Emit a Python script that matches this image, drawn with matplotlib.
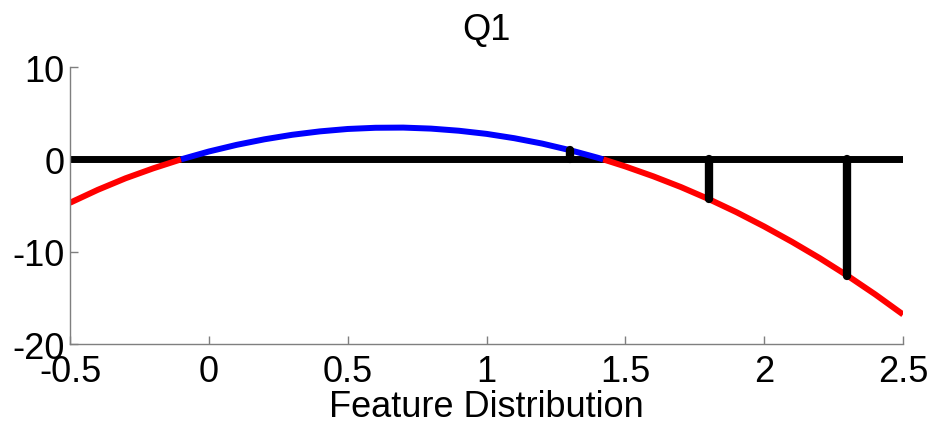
import numpy as np
import matplotlib
matplotlib.use("Agg")
import matplotlib.pyplot as plt

plt.rcParams['font.family'] = ['Liberation Sans', 'DejaVu Sans']
plt.rcParams['axes.unicode_minus'] = False

# curve values
x_vals = [-0.5, -0.4, -0.3, -0.2, -0.1, 0.0, 0.1, 0.2, 0.3, 0.4, 0.5, 0.6, 0.7,
          0.8, 0.9, 1.0, 1.1, 1.2, 1.3, 1.4, 1.42, 1.5, 1.6, 1.7, 1.8, 1.9, 2.0,
          2.1, 2.2, 2.3, 2.4, 2.5]
y_vals = [-4.7, -3.3, -2.05, -0.97, 0.0, 0.85, 1.57, 2.17, 2.66, 3.03, 3.29, 3.42, 3.44,
          3.33, 3.1, 2.76, 2.29, 1.71, 1.0, 0.18, 0.0, -0.77, -1.83, -3.0, -4.3, -5.72, -7.27,
          -8.93, -10.7, -12.6, -14.63, -16.8]

baseline_x = [-0.5, 2.5]
bar_x = [1.3, 1.8, 2.3]
bar_y = [1.05, -4.3, -12.6]

x = np.array(x_vals)
y = np.array(y_vals)
blue = np.where(y >= 0, y, np.nan)
red = np.where(y <= 0, y, np.nan)

fig = plt.figure(figsize=(9.35, 4.27), dpi=100)
ax = fig.add_axes([0.0749, 0.192, 0.8909, 0.6487])

# zero line first, curve over it, bars on top
ax.plot(baseline_x, [0, 0], color='black', lw=5, solid_capstyle='round')
ax.plot(x, red, color='red', lw=4.3, solid_capstyle='butt')
ax.plot(x, blue, color='blue', lw=4.3, solid_capstyle='butt')
for bx, by in zip(bar_x, bar_y):
    ax.plot([bx, bx], [0, by], color='black', lw=6, solid_capstyle='round')

ax.set_xlim(-0.5, 2.5)
ax.set_ylim(-20, 10)
ax.set_xticks([-0.5, 0, 0.5, 1, 1.5, 2, 2.5])
ax.set_xticklabels(['-0.5', '0', '0.5', '1', '1.5', '2', '2.5'])
ax.set_yticks([-20, -10, 0, 10])

for side in ['top', 'right']:
    ax.spines[side].set_visible(False)
for side in ['left', 'bottom']:
    ax.spines[side].set_color('#7f7f7f')
    ax.spines[side].set_linewidth(1.0)
ax.tick_params(direction='in', length=6, width=1, color='#7f7f7f',
               labelsize=26, labelcolor='black')
ax.tick_params(axis='x', pad=7)
ax.tick_params(axis='y', pad=4)

ax.set_title('Q1', fontsize=26, pad=20)
ax.set_xlabel('Feature Distribution', fontsize=26, labelpad=0)

fig.savefig('out.png', dpi=100)
